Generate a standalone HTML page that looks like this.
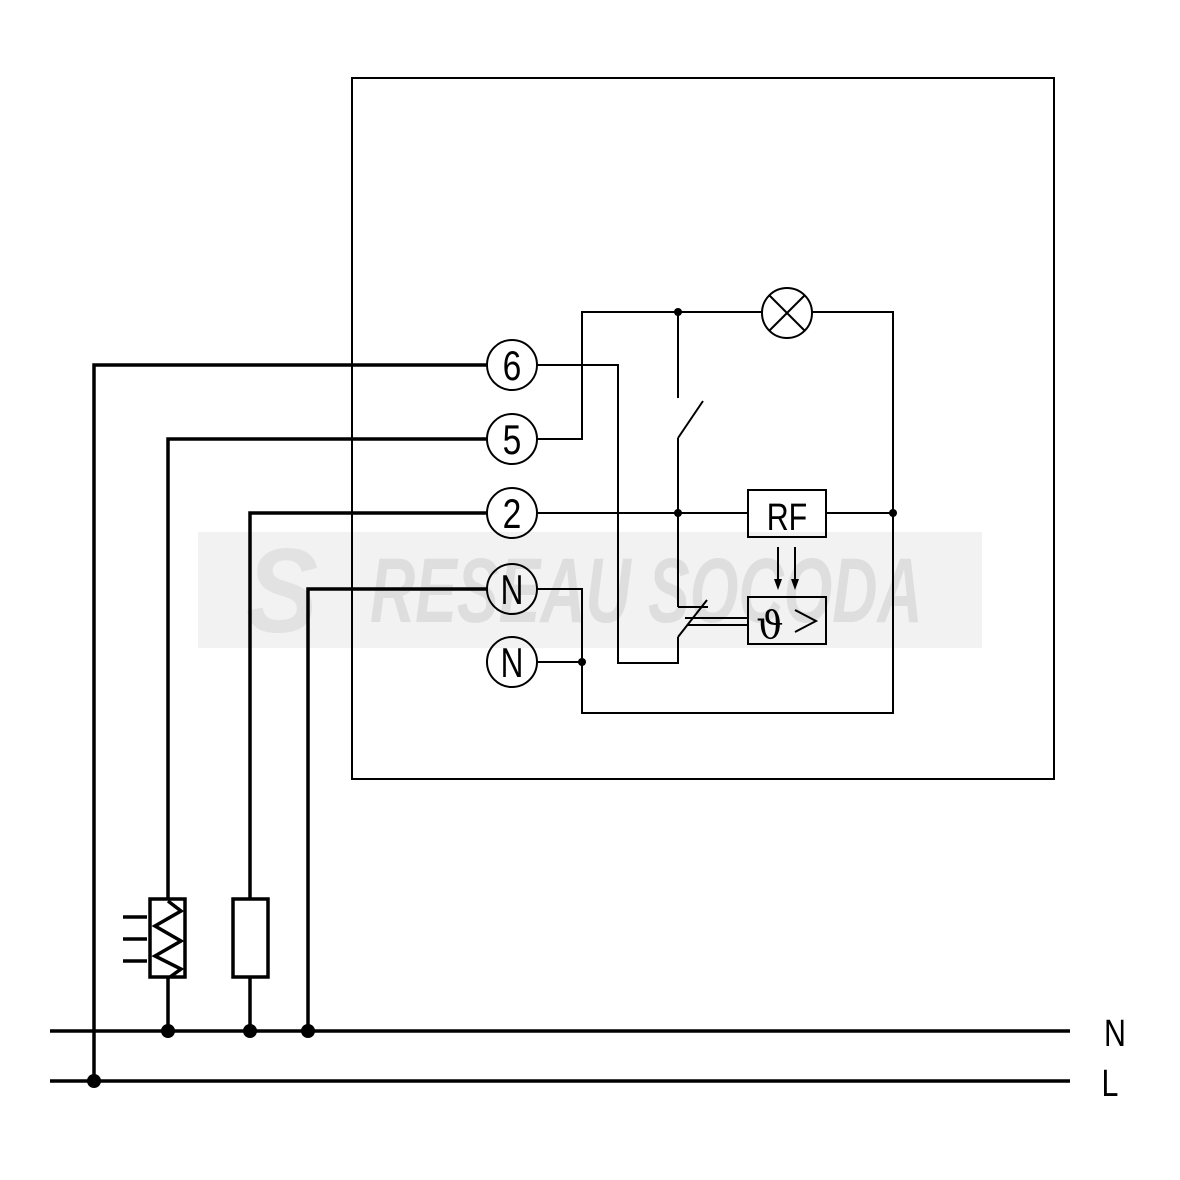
<!DOCTYPE html>
<html><head><meta charset="utf-8"><style>
html,body{margin:0;padding:0;background:#fff;width:1180px;height:1180px;overflow:hidden}
</style></head><body>
<svg width="1180" height="1180" viewBox="0 0 1180 1180" xmlns="http://www.w3.org/2000/svg" font-family="'Liberation Sans', sans-serif">
<rect width="1180" height="1180" fill="#fff"/>
<rect x="198" y="532" width="784" height="116" fill="#f2f2f2"/>
<text x="0" y="0" text-anchor="start" font-size="92" font-weight="bold" font-style="italic" fill="#dedede" transform="translate(370,622) scale(0.68,1)">RESEAU SOCODA</text>
<text x="0" y="0" text-anchor="middle" font-size="120" font-weight="bold" font-style="italic" fill="#e2e2e2" transform="translate(282,632) scale(0.9,1)">S</text>

<g fill="none" stroke="#000" stroke-width="2">
<rect x="352" y="78" width="702" height="701"/>
<polyline points="537,439 582,439 582,312 762,312"/>
<polyline points="812,312 893,312 893,713 582,713 582,589 537,589"/>
<line x1="537" y1="662" x2="582" y2="662"/>
<polyline points="537,365 618,365 618,663 678,663 678,637"/>
<line x1="678" y1="637" x2="707" y2="600"/>
<line x1="678" y1="607" x2="708" y2="607"/>
<line x1="685" y1="618" x2="748" y2="618"/>
<line x1="688" y1="625" x2="748" y2="625"/>
<polyline points="678,312 678,398"/>
<line x1="678" y1="438" x2="703" y2="401"/>
<line x1="678" y1="438" x2="678" y2="607"/>
<line x1="537" y1="513" x2="748" y2="513"/>
<line x1="826" y1="513" x2="893" y2="513"/>
<rect x="748" y="490" width="78" height="47"/>
<rect x="748" y="597" width="78" height="47"/>
<circle cx="787" cy="313" r="25"/>
<line x1="769" y1="295" x2="805" y2="331"/>
<line x1="805" y1="295" x2="769" y2="331"/>
<line x1="778" y1="547" x2="778" y2="580"/>
<line x1="795" y1="547" x2="795" y2="580"/>
<circle cx="512" cy="365" r="25"/>
<circle cx="512" cy="439" r="25"/>
<circle cx="512" cy="513" r="25"/>
<circle cx="512" cy="589" r="25"/>
<circle cx="512" cy="662" r="25"/>
</g>
<polygon points="774,579 782,579 778,590" fill="#000"/>
<polygon points="791,579 799,579 795,590" fill="#000"/>
<g fill="#000">
<circle cx="678" cy="312" r="4"/>
<circle cx="678" cy="513" r="4"/>
<circle cx="893" cy="513" r="4"/>
<circle cx="582" cy="662" r="4"/>
</g>
<text x="770" y="638" font-size="38" font-family="'DejaVu Serif', serif" text-anchor="middle">ϑ</text>
<polyline points="795,610 816,621 795,632" fill="none" stroke="#000" stroke-width="2"/>
<text x="0" y="0" font-size="38" text-anchor="middle" transform="translate(787,530) scale(0.8,1)">RF</text>
<g font-size="42" text-anchor="middle">
<text x="0" y="0" transform="translate(512,380) scale(0.8,1)">6</text>
<text x="0" y="0" transform="translate(512,454) scale(0.8,1)">5</text>
<text x="0" y="0" transform="translate(512,528) scale(0.8,1)">2</text>
<text x="0" y="0" transform="translate(512,604) scale(0.75,1)">N</text>
<text x="0" y="0" transform="translate(512,677) scale(0.75,1)">N</text>
</g>

<g fill="none" stroke="#000" stroke-width="3.5">
<polyline points="487,365 94,365 94,1081"/>
<polyline points="487,439 168,439 168,899"/>
<line x1="168" y1="977" x2="168" y2="1031"/>
<polyline points="487,513 250,513 250,899"/>
<line x1="250" y1="977" x2="250" y2="1031"/>
<polyline points="487,589 308,589 308,1031"/>
<line x1="50" y1="1031" x2="1070" y2="1031"/>
<line x1="50" y1="1081" x2="1070" y2="1081"/>
<rect x="150" y="899" width="35" height="78"/>
<rect x="233" y="899" width="35" height="78"/>
<polyline points="168,901 181,911 155,926 181,941 155,956 181,969 170,977"/>
<line x1="123" y1="917" x2="147" y2="917"/>
<line x1="123" y1="939" x2="147" y2="939"/>
<line x1="123" y1="961" x2="147" y2="961"/>
</g>
<g fill="#000">
<circle cx="168" cy="1031" r="7"/>
<circle cx="250" cy="1031" r="7"/>
<circle cx="308" cy="1031" r="7"/>
<circle cx="94" cy="1081" r="7"/>
</g>
<text x="0" y="0" font-size="38" text-anchor="middle" transform="translate(1115,1046) scale(0.8,1)">N</text>
<text x="0" y="0" font-size="38" text-anchor="middle" transform="translate(1110,1096) scale(0.8,1)">L</text>
</svg>
</body></html>
